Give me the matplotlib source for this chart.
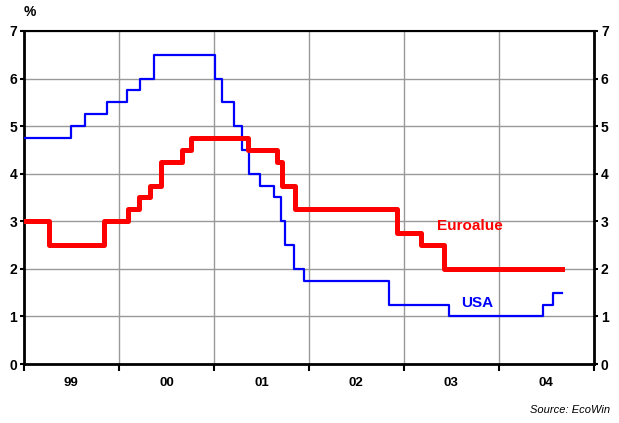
import matplotlib
matplotlib.use("Agg")
import matplotlib.pyplot as plt
import pandas as pd

plt.rcParams['font.family'] = ['Liberation Sans', 'DejaVu Sans']

usa_dates = ["1999-01-01", "1999-06-30", "1999-08-24", "1999-11-16", "2000-02-02",
             "2000-03-21", "2000-05-16", "2001-01-03", "2001-01-31", "2001-03-20",
             "2001-04-18", "2001-05-15", "2001-06-27", "2001-08-21", "2001-09-17",
             "2001-10-02", "2001-11-06", "2001-12-11", "2002-11-06", "2003-06-25",
             "2004-06-20", "2004-07-26", "2004-08-30"]
usa_rates = [4.75, 5.0, 5.25, 5.5, 5.75, 6.0, 6.5, 6.0, 5.5, 5.0, 4.5, 4.0, 3.75,
             3.5, 3.0, 2.5, 2.0, 1.75, 1.25, 1.0, 1.25, 1.5, 1.5]

ecb_dates = ["1999-01-01", "1999-04-09", "1999-11-05", "2000-02-04", "2000-03-17",
             "2000-04-28", "2000-06-09", "2000-09-01", "2000-10-06", "2001-05-11",
             "2001-08-31", "2001-09-18", "2001-11-09", "2002-12-06", "2003-03-07",
             "2003-06-06", "2004-08-30"]
ecb_rates = [3.0, 2.5, 3.0, 3.25, 3.5, 3.75, 4.25, 4.5, 4.75, 4.5, 4.25, 3.75,
             3.25, 2.75, 2.5, 2.0, 2.0]

year_labels = ["99", "00", "01", "02", "03", "04"]
y_ticks = [0, 1, 2, 3, 4, 5, 6, 7]

fig = plt.figure(figsize=(6.19, 4.23), dpi=100)
ax = fig.add_axes([24/619, 59/423, 570/619, 333/423])

ax.step(pd.to_datetime(usa_dates), usa_rates, where='post', color='#0000ff', lw=1.6, zorder=3)
ax.step(pd.to_datetime(ecb_dates), ecb_rates, where='post', color='#ff0000', lw=3.6, zorder=4)

ax.set_xlim(pd.Timestamp("1999-01-01"), pd.Timestamp("2005-01-01"))
ax.set_ylim(0, 7)
ax.set_yticks(y_ticks)

major = [pd.Timestamp(f"{y}-01-01") for y in range(1999, 2006)]
ax.set_xticks(major)
ax.set_xticklabels([])
minor = [pd.Timestamp(f"{y}-07-02") for y in range(1999, 2005)]
ax.set_xticks(minor, minor=True)
ax.set_xticklabels(year_labels, minor=True, fontweight='bold', fontsize=9.5)
ax.tick_params(axis='x', which='minor', length=0, pad=9)
ax.tick_params(axis='x', which='major', length=5, width=1.5, direction='out')
ax.tick_params(axis='y', which='major', length=3, width=1.5, direction='out',
               left=True, right=True, labelleft=True, labelright=True, labelsize=10, pad=2)
for t in ax.yaxis.get_major_ticks():
    t.label1.set_fontweight('bold')
    t.label2.set_fontweight('bold')

ax.grid(True, which='major', color='#999999', lw=1.0)
ax.set_axisbelow(True)
for side in ['left', 'right', 'bottom']:
    ax.spines[side].set_linewidth(2.0)
ax.spines['top'].set_linewidth(1.5)

fig.text(24/619, 1 - 12/423, "%", fontsize=10, fontweight='bold', ha='left', va='center')
ax.text(pd.Timestamp("2003-05-08"), 2.9, "Euroalue", color='#ff0000', fontsize=11,
        fontweight='bold', ha='left', va='center')
ax.text(pd.Timestamp("2003-08-10"), 1.28, "USA", color='#0000ff', fontsize=11,
        fontweight='bold', ha='left', va='center')
fig.text(610/619, 1 - 410/423, "Source: EcoWin", fontsize=8, style='italic',
         ha='right', va='center')

fig.savefig("out.png", dpi=100)
